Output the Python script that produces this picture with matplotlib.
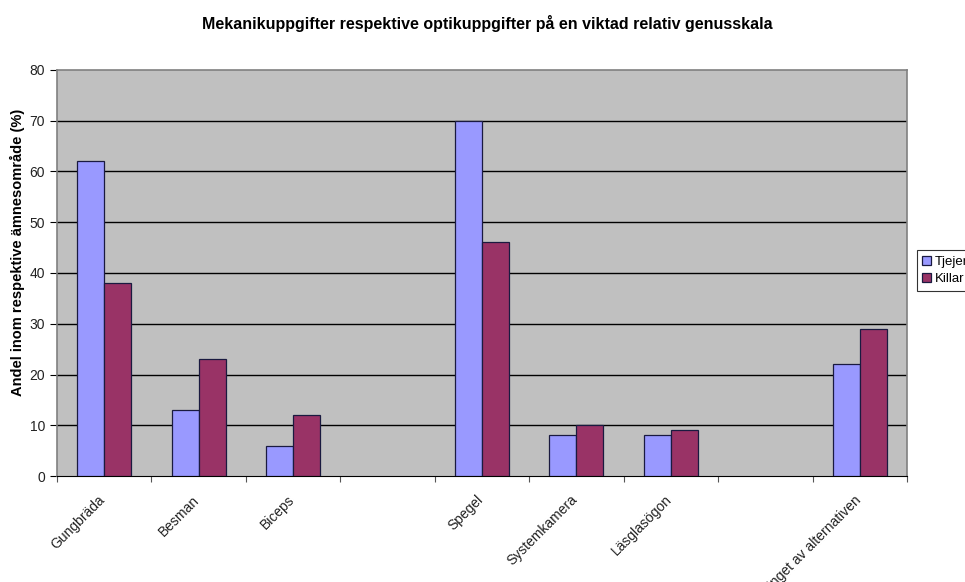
import numpy as np
import matplotlib
matplotlib.use('Agg')
import matplotlib.pyplot as plt

plt.rcParams['font.family'] = ['Liberation Sans', 'DejaVu Sans']

categories = ['Gungbräda', 'Besman', 'Biceps', '', 'Spegel',
              'Systemkamera', 'Läsglasögon', '', 'Inget av alternativen']
tjejer = [62, 13, 6, np.nan, 70, 8, 8, np.nan, 22]
killar = [38, 23, 12, np.nan, 46, 10, 9, np.nan, 29]
yticks = [0, 10, 20, 30, 40, 50, 60, 70, 80]

fig = plt.figure(figsize=(9.65, 5.82), dpi=100)
ax = fig.add_axes([0.059, 0.182, 0.881, 0.698])
ax.set_facecolor('#C0C0C0')

x = np.arange(len(categories))
w = 1.0 / 3.5
t = np.array(tjejer, dtype=float)
k = np.array(killar, dtype=float)
ok = ~np.isnan(t)
b1 = ax.bar(x[ok] - w / 2, t[ok], w, color='#9999FF', edgecolor='#1a1a40',
            linewidth=0.9, label='Tjejer', zorder=3)
b2 = ax.bar(x[ok] + w / 2, k[ok], w, color='#993366', edgecolor='#1a1a40',
            linewidth=0.9, label='Killar', zorder=3)

ax.set_xlim(-0.5, len(categories) - 0.5)
ax.set_ylim(0, 80)
ax.set_yticks(yticks)
# grid only between the axis and the top border
for yv in yticks[1:-1]:
    ax.axhline(yv, color='black', linewidth=1.0, zorder=1)

# boundary ticks on the x axis, labels under each group
ax.set_xticks(np.arange(len(categories) + 1) - 0.5)
ax.set_xticklabels([])
ax.set_xticks(x - 0.065, minor=True)
ax.set_xticklabels(categories, minor=True, rotation=45, ha='right',
                   rotation_mode='anchor', fontsize=10, color='#222222')
ax.tick_params(axis='x', which='minor', length=0, pad=12)
ax.tick_params(axis='x', which='major', length=4, color='#555555')
ax.tick_params(axis='y', length=5, color='black', labelsize=10,
               labelcolor='#222222')

for s in ['top', 'right', 'left']:
    ax.spines[s].set_color('#808080')
    ax.spines[s].set_linewidth(1.2)
ax.spines['bottom'].set_color('black')

ax.set_ylabel('Andel inom respektive ämnesområde (%)', fontsize=10.5,
              fontweight='bold')
ax.yaxis.set_label_coords(-0.038, 0.55)
fig.suptitle('Mekanikuppgifter respektive optikuppgifter på en viktad relativ genusskala',
             x=0.505, y=0.975, fontsize=11.5, fontweight='bold')

leg = fig.legend(handles=[b1, b2], loc='upper left',
                 bbox_to_anchor=(0.950, 0.57), fontsize=9.5, frameon=True,
                 fancybox=False, edgecolor='black', handlelength=0.7,
                 handleheight=0.7, handletextpad=0.3, borderpad=0.4,
                 labelspacing=0.4, borderaxespad=0)
leg.get_frame().set_linewidth(0.8)

fig.savefig('out.png', dpi=100, facecolor='white')
